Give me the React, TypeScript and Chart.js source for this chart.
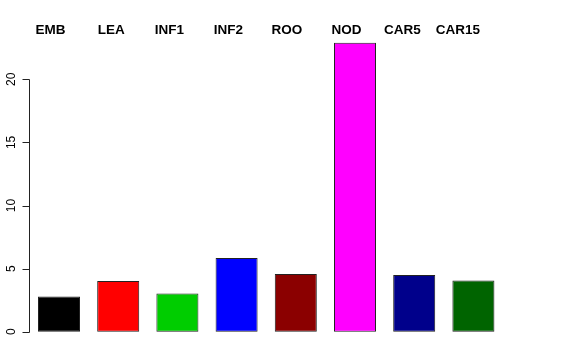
import React, { useEffect, useRef } from "react";
import { Chart, registerables } from "chart.js";

Chart.register(...registerables);

const categories = ["EMB", "LEA", "INF1", "INF2", "ROO", "NOD", "CAR5", "CAR15"];
const values = [2.8, 4.02, 3.02, 5.85, 4.58, 22.9, 4.5, 4.05];
const barColors = ["#000000", "#FF0000", "#00CD00", "#0000FF", "#8B0000", "#FF00FF", "#00008B", "#006400"];
const yTicks = [0, 5, 10, 15, 20];

const rAxesPlugin = {
  id: "rAxes",
  afterDraw(chart: any) {
    const ctx = chart.ctx as CanvasRenderingContext2D;
    const ys = chart.scales.y;
    const xs = chart.scales.x;
    const area = chart.chartArea;
    ctx.save();
    ctx.strokeStyle = "#222222";
    ctx.lineWidth = 1;
    const ax = Math.floor(area.left) + 0.5;
    const y0 = Math.round(ys.getPixelForValue(yTicks[0])) + 0.5;
    const y1 = Math.round(ys.getPixelForValue(yTicks[yTicks.length - 1])) + 0.5;
    ctx.beginPath();
    ctx.moveTo(ax, y0);
    ctx.lineTo(ax, y1);
    for (const t of yTicks) {
      const py = Math.round(ys.getPixelForValue(t)) + 0.5;
      ctx.moveTo(ax, py);
      ctx.lineTo(ax - 7, py);
    }
    ctx.stroke();

    ctx.fillStyle = "#000000";
    ctx.font = "12px 'Liberation Sans', Arial, sans-serif";
    ctx.textAlign = "center";
    ctx.textBaseline = "alphabetic";
    for (const t of yTicks) {
      const py = ys.getPixelForValue(t);
      ctx.save();
      ctx.translate(ax - 14.5, py);
      ctx.rotate(-Math.PI / 2);
      ctx.fillText(String(t), 0, 0);
      ctx.restore();
    }

    ctx.font = "bold 13.5px 'Liberation Sans', Arial, sans-serif";
    ctx.textAlign = "right";
    categories.forEach((c, i) => {
      const px = xs.getPixelForValue(i);
      ctx.fillText(c, px + 6.5, area.top + 3);
    });
    ctx.restore();
  },
};

export default function App() {
  const canvasRef = useRef<HTMLCanvasElement | null>(null);

  useEffect(() => {
    document.body.style.margin = "0";
    const canvas = canvasRef.current;
    if (!canvas) return;
    const maxV = Math.max(...values);
    const chart = new Chart(canvas, {
      type: "bar",
      data: {
        labels: categories,
        datasets: [
          {
            data: values,
            backgroundColor: barColors,
            borderColor: "#222222",
            borderWidth: 1,
            borderSkipped: false,
            barPercentage: 0.71,
            categoryPercentage: 1,
          },
        ],
      },
      options: {
        responsive: false,
        animation: false,
        devicePixelRatio: 1,
        layout: { padding: { left: 29.4, right: 73, top: 31.1, bottom: 16.7 } },
        plugins: { legend: { display: false }, tooltip: { enabled: false }, title: { display: false } },
        scales: {
          x: { display: false, offset: true },
          y: { display: false, min: -0.04 * maxV, max: 1.04 * maxV },
        },
      },
      plugins: [rAxesPlugin],
    });
    return () => chart.destroy();
  }, []);

  return (
    <div style={{ width: 576, height: 360, background: "#ffffff" }}>
      <canvas ref={canvasRef} width={576} height={360} style={{ display: "block", width: 576, height: 360 }} />
    </div>
  );
}
